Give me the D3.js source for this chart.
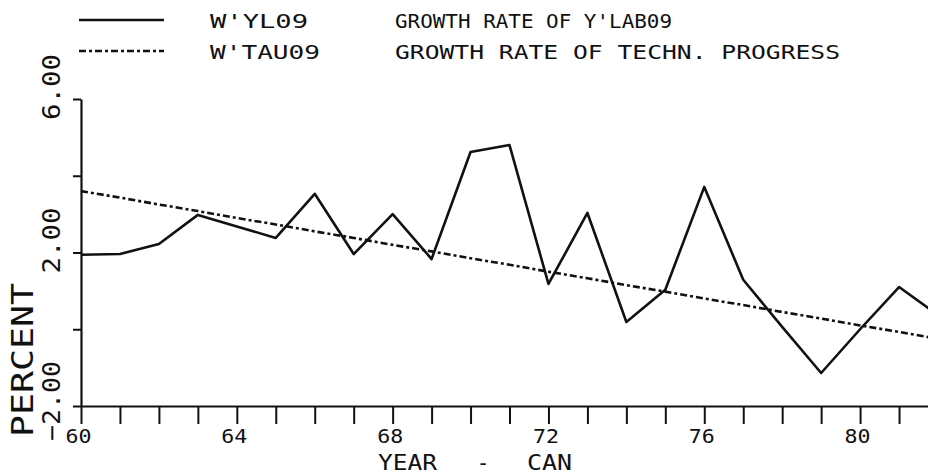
<!DOCTYPE html>
<html>
<head>
<meta charset="utf-8">
<script src="https://cdn.jsdelivr.net/npm/d3@7"></script>
<style>
	body { margin: 0; background: #fff; }
	svg { display: block; }
	text { font-family: "DejaVu Sans Mono", monospace; fill: #111; }
</style>
</head>
<body>
<svg></svg>
<script>
// years on the x axis
let years = d3.range(60, 83);
// W'YL09 growth rate of Y'LAB09 (solid)
let ylo = [1.94, 1.96, 2.22, 2.98, 2.68, 2.38, 3.53, 1.96, 3.00, 1.83, 4.62, 4.80,
	1.18, 3.03, 0.19, 1.03, 3.71, 1.29, 0.06, -1.14, 0.00, 1.10, 0.37];
// W'TAU09 growth rate of techn. progress (dash-dot)
let tau = [3.60, 3.43, 3.25, 3.08, 2.90, 2.73, 2.55, 2.38, 2.20, 2.03, 1.85, 1.68,
	1.50, 1.33, 1.15, 0.98, 0.80, 0.63, 0.45, 0.28, 0.10, -0.07, -0.25];
let xLabels = [60, 64, 68, 72, 76, 80];
let yTicks = [-2, 0, 2, 4, 6];
let yLabels = [-2, 2, 6];
let series = [
	{ code: "W'YL09", name: "GROWTH RATE OF Y'LAB09", values: ylo, dash: null },
	{ code: "W'TAU09", name: "GROWTH RATE OF TECHN. PROGRESS", values: tau, dash: '7,3,3,3' }
];

var width = 928, height = 475;
let svg = d3.select('svg').attr('width', width).attr('height', height);

let x = d3.scaleLinear().domain([60, 82]).range([81, 938]);
let y = d3.scaleLinear().domain([-2, 6]).range([406, 99]);

// x axis
let xAxis = svg.append('g')
	.attr('transform', `translate(0,${y(-2)})`)
	.call(d3.axisBottom(x).tickValues(years).tickSize(18).tickSizeOuter(0).tickPadding(6)
		.tickFormat(d => xLabels.includes(d) ? d : ''));
xAxis.select('.domain').attr('stroke-width', 2.2).attr('stroke', '#111');
xAxis.selectAll('.tick line').attr('stroke-width', 2).attr('stroke', '#111');
xAxis.selectAll('.tick text')
	.attr('font-size', 19)
	.attr('dx', -3)
	.attr('fill', '#111')
	.filter(d => xLabels.includes(d))
	.attr('textLength', 26)
	.attr('lengthAdjust', 'spacingAndGlyphs');

// y axis
let yAxis = svg.append('g')
	.attr('transform', `translate(${x(60)},0)`)
	.call(d3.axisLeft(y).tickValues(yTicks).tickSize(8).tickSizeOuter(0).tickFormat(''));
yAxis.select('.domain').attr('stroke-width', 2.2).attr('stroke', '#111');
yAxis.selectAll('.tick line').attr('stroke-width', 2).attr('stroke', '#111');

// rotated y labels, decimal point on the tick
svg.selectAll('.ylab')
	.data(yLabels)
	.join('text')
	.attr('class', 'ylab')
	.attr('transform', d => `translate(60,${y(d) + 21 + (d < 0 ? 14 : 0)}) rotate(-90)`)
	.attr('font-size', 24)
	.attr('textLength', d => d < 0 ? 80 : 66)
	.attr('lengthAdjust', 'spacingAndGlyphs')
	.text(d => d3.format('.2f')(d));

// axis titles
svg.append('text')
	.attr('transform', 'translate(33,437) rotate(-90)')
	.attr('font-size', 31)
	.attr('textLength', 154)
	.attr('lengthAdjust', 'spacingAndGlyphs')
	.text('PERCENT');
svg.append('text').attr('x', 378).attr('y', 470).attr('font-size', 21)
	.attr('textLength', 59).attr('lengthAdjust', 'spacingAndGlyphs').text('YEAR');
svg.append('text').attr('x', 483).attr('y', 470).attr('font-size', 21)
	.attr('text-anchor', 'middle').text('-');
svg.append('text').attr('x', 527).attr('y', 470).attr('font-size', 21)
	.attr('textLength', 45).attr('lengthAdjust', 'spacingAndGlyphs').text('CAN');

// series lines
let line = d3.line()
	.x((d, i) => x(years[i]))
	.y(d => y(d));

svg.selectAll('.series')
	.data(series)
	.join('path')
	.attr('class', 'series')
	.attr('d', d => line(d.values))
	.attr('fill', 'none')
	.attr('stroke', '#111')
	.attr('stroke-width', 2.6)
	.attr('stroke-linejoin', 'round')
	.attr('stroke-dasharray', d => d.dash);

// legend
let legend = svg.selectAll('.legend')
	.data(series)
	.join('g')
	.attr('class', 'legend')
	.attr('transform', (d, i) => `translate(0,${20 + i * 31})`);
legend.append('line')
	.attr('x1', 79).attr('x2', 164)
	.attr('stroke', '#111').attr('stroke-width', 2.6)
	.attr('stroke-dasharray', d => d.dash);
legend.append('text')
	.attr('x', 210).attr('y', 8)
	.attr('font-size', 20)
	.attr('textLength', (d, i) => i ? 110 : 98)
	.attr('lengthAdjust', 'spacingAndGlyphs')
	.text(d => d.code);
legend.append('text')
	.attr('x', 395).attr('y', 8)
	.attr('font-size', 20)
	.attr('textLength', (d, i) => i ? 445 : 277)
	.attr('lengthAdjust', 'spacingAndGlyphs')
	.text(d => d.name);
</script>
</body>
</html>
